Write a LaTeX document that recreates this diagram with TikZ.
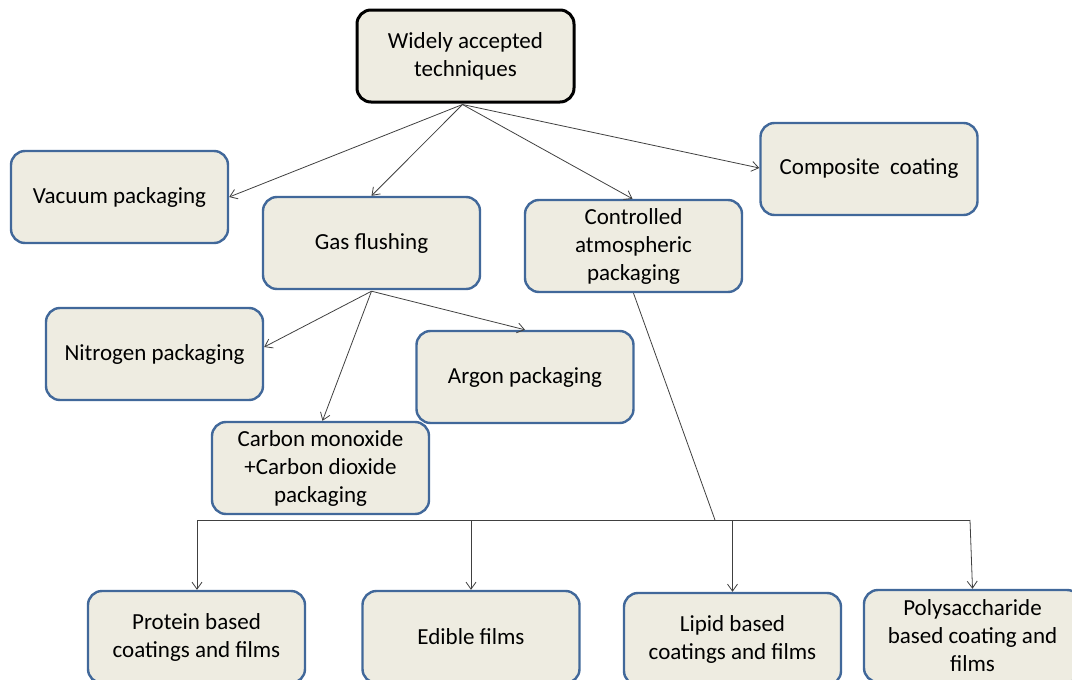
\documentclass[tikz,border=0pt]{standalone}
\usepackage{fontspec}
\setmainfont{Carlito}
\usetikzlibrary{arrows.meta,calc}
\definecolor{boxfill}{HTML}{EEECE1}
\definecolor{boxline}{HTML}{41689A}
\definecolor{conn}{HTML}{404040}
\tikzset{
  box/.style={draw=boxline, line width=2.4pt, fill=boxfill, rounded corners=14pt,
    minimum width=217pt, minimum height=92pt, inner sep=0pt, align=center,
    font=\fontsize{23pt}{28pt}\selectfont, text=black},
  topbox/.style={box, draw=black, line width=3pt},
  arr/.style={draw=conn, line width=0.8pt, -{Straight Barb[length=7pt,width=10pt]}},
  ln/.style={draw=conn, line width=0.8pt}
}
\begin{document}
\begin{tikzpicture}[x=1pt,y=-1pt]
\useasboundingbox (0,0) rectangle (1072,680);
\clip (0,0) rectangle (1072,680);
\node[topbox] (top) at (465.5,56) {Widely accepted\\techniques};
\node[box] (vac) at (119.5,197) {Vacuum packaging};
\node[box] (gas) at (371.5,243) {Gas flushing};
\node[box] (cap) at (633.5,246) {Controlled\\atmospheric\\packaging};
\node[box] (comp) at (869,169) {Composite\ \ coating};
\node[box] (nit) at (154.5,354) {Nitrogen packaging};
\node[box] (arg) at (525,377) {Argon packaging};
\node[box] (co) at (320.5,468) {Carbon monoxide\\+Carbon dioxide\\packaging};
\node[box] (prot) at (196.5,637) {Protein based\\coatings and films};
\node[box] (edib) at (471,637) {Edible films};
\node[box] (lip) at (732.5,639) {Lipid based\\coatings and films};
\node[box] (poly) at (972.5,636) {Polysaccharide\\based coating and\\films};
\coordinate (t) at ($(top.south)+(-3,1)$);
\draw[arr] (t) -- (vac.east);
\draw[arr] (t) -- (gas.north);
\draw[arr] (t) -- ($(cap.north)+(-1,0)$);
\draw[arr] (t) -- ($(comp.west)+(0,-1)$);
\coordinate (g) at ($(gas.south)+(0,1)$);
\draw[arr] (g) -- ($(nit.east)+(0,-7)$);
\draw[arr] (g) -- (arg.north);
\draw[arr] (g) -- ($(co.north)+(2,0)$);
\coordinate (j) at (715,520);
\coordinate (bl) at (197,520);
\coordinate (br) at (970,520);
\draw[ln] (cap.south) -- (j);
\draw[ln] (bl) -- (br);
\draw[arr] (bl) -- (bl |- prot.north);
\draw[arr] (edib.north |- bl) -- (edib.north);
\draw[arr] (lip.north |- bl) -- (lip.north);
\draw[arr] (br) -- (poly.north);
\end{tikzpicture}
\end{document}
